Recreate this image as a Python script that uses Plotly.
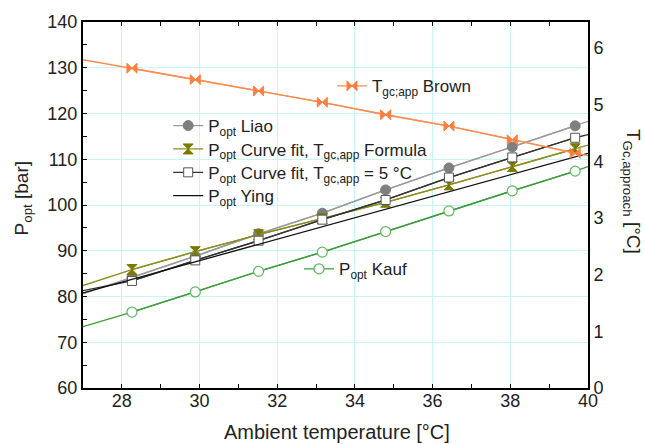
import plotly.graph_objects as go

# ---- data ----
temp = [28.26, 29.89, 31.52, 33.16, 34.79, 36.42, 38.05, 39.67]
x_edges = [27, 40]

liao = [84.2, 88.8, 93.7, 98.2, 103.3, 108.1, 112.7, 117.3]
liao_edges = [80.6, 118.3]

formula = [85.9, 89.8, 93.5, 97.0, 100.6, 104.4, 108.4, 112.3]
formula_edges = [82.4, 113.1]

five_c = [83.4, 87.9, 92.2, 96.8, 101.1, 106.0, 110.4, 114.7]
five_c_edges = [81.3, 115.4]

ying_edges = [80.8, 111.3]

kauf = [76.6, 81.0, 85.5, 89.7, 94.2, 98.7, 103.1, 107.4]
kauf_edges = [73.4, 108.4]

brown = [5.64, 5.44, 5.24, 5.04, 4.82, 4.62, 4.38, 4.14]
brown_edges = [5.79, 4.10]

FONT = "Liberation Sans, Arial, sans-serif"
TXT = "#222222"

fig = go.Figure()


def add_series(vals, edges, name, line_color, marker, legend, yaxis="y"):
    xs = [x_edges[0]] + temp + [x_edges[1]]
    ys = [edges[0]] + vals + [edges[1]]
    fig.add_trace(go.Scatter(x=xs, y=ys, mode="lines", yaxis=yaxis,
                             line=dict(color=line_color, width=1.3),
                             showlegend=False, hoverinfo="skip"))
    fig.add_trace(go.Scatter(x=temp, y=vals, mode="lines+markers", yaxis=yaxis,
                             name=name, legend=legend,
                             line=dict(color=line_color, width=1.3),
                             marker=marker))


add_series(liao, liao_edges, "P<sub>opt</sub> Liao", "#9a9a9a",
           dict(symbol="circle", size=10, color="#7f7f7f",
                line=dict(color="#7f7f7f", width=1)), "legend")
add_series(formula, formula_edges,
           "P<sub>opt</sub> Curve fit, T<sub>gc,app</sub> Formula", "#8c8c1e",
           dict(symbol="hourglass", size=10, color="#7a7a00",
                line=dict(color="#7a7a00", width=1)), "legend4")
add_series(five_c, five_c_edges,
           "P<sub>opt</sub> Curve fit, T<sub>gc,app</sub> = 5 °C", "#333333",
           dict(symbol="square", size=9, color="white",
                line=dict(color="#555555", width=1)), "legend5")
fig.add_trace(go.Scatter(x=x_edges, y=ying_edges, mode="lines",
                         name="P<sub>opt</sub> Ying", legend="legend6",
                         line=dict(color="#111111", width=1.3)))
add_series(kauf, kauf_edges, "P<sub>opt</sub> Kauf", "#3a9d3a",
           dict(symbol="circle", size=10, color="white",
                line=dict(color="#5cb85c", width=1.2)), "legend3")
add_series(brown, brown_edges, "T<sub>gc;app</sub> Brown", "#ff8c50",
           dict(symbol="bowtie", size=10, color="#ff7f40",
                line=dict(color="#ff7f40", width=1)), "legend2", yaxis="y2")

legend_common = dict(bgcolor="rgba(0,0,0,0)", borderwidth=0,
                     font=dict(family=FONT, size=17, color=TXT),
                     xanchor="left", yanchor="top", itemwidth=30,
                     tracegroupgap=0)

fig.update_layout(
    width=645, height=444,
    margin=dict(l=83, r=57, t=20, b=56),
    paper_bgcolor="white", plot_bgcolor="white",
    font=dict(family=FONT, size=18, color=TXT),
    xaxis=dict(range=[27, 40], tick0=28, dtick=2, ticks="inside", ticklen=4,
               tickcolor="black", showline=True, linecolor="black", linewidth=2,
               mirror="ticks", showgrid=True, gridcolor="#c8f6f6", gridwidth=1,
               zeroline=False, tickfont=dict(size=18), ticklabelstandoff=-5,
               minor=dict(dtick=1, tick0=28, ticks="inside", ticklen=4,
                          tickcolor="black", showgrid=False)),
    yaxis=dict(range=[60, 140], dtick=10, ticks="inside", ticklen=4,
               tickcolor="black", showline=True, linecolor="black", linewidth=2,
               mirror=True, showgrid=True, gridcolor="#c8f6f6", gridwidth=1,
               zeroline=False, tickfont=dict(size=18),
               minor=dict(dtick=5, ticks="inside", ticklen=4,
                          tickcolor="black", showgrid=False)),
    yaxis2=dict(range=[0, 6.456], dtick=1, overlaying="y", side="right",
                showgrid=False, zeroline=False, showline=True,
                linecolor="black", linewidth=2, ticks="",
                tickfont=dict(size=18)),
    legend=dict(x=0.1687, y=0.765, **legend_common),
    legend4=dict(x=0.1687, y=0.7011, **legend_common),
    legend5=dict(x=0.1687, y=0.6372, **legend_common),
    legend6=dict(x=0.1687, y=0.5734, **legend_common),
    legend2=dict(x=0.493, y=0.8736, **legend_common),
    legend3=dict(x=0.4278, y=0.3737, **legend_common),
    annotations=[
        dict(text="Ambient temperature [°C]", xref="paper", yref="paper",
             x=0.503, y=-0.12, showarrow=False, xanchor="center", yanchor="middle",
             font=dict(size=20, family=FONT, color=TXT)),
        dict(text="P<sub>opt</sub> [bar]", xref="paper", yref="paper",
             x=-0.118, y=0.519, showarrow=False, textangle=-90,
             xanchor="center", yanchor="middle",
             font=dict(size=19, family=FONT, color=TXT)),
        dict(text="T<sub>Gc,approach</sub> [°C]", xref="paper", yref="paper",
             x=1.0884, y=0.5367, showarrow=False, textangle=90,
             xanchor="center", yanchor="middle",
             font=dict(size=19, family=FONT, color=TXT)),
    ],
)

fig.write_html("out.html")
